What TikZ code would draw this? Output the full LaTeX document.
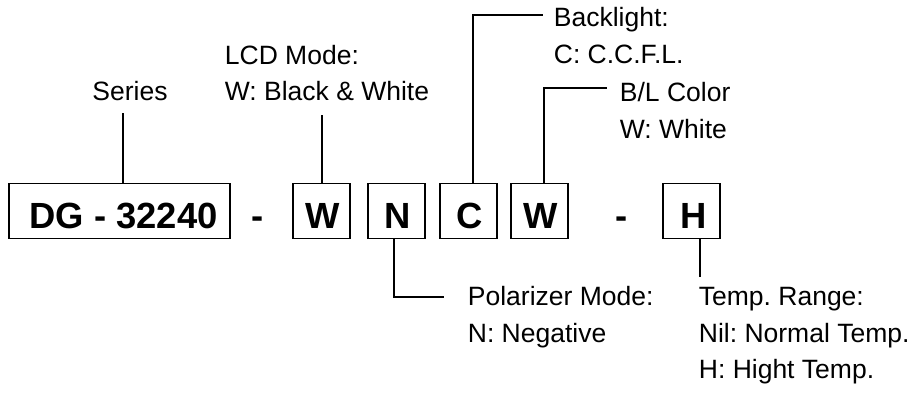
\documentclass[tikz,border=0pt]{standalone}
\usepackage{fontspec}
\setmainfont{Liberation Sans}
\frenchspacing
\begin{document}
\begin{tikzpicture}[x=1pt,y=-1pt,
  line width=1.8pt,
  codebox/.style={draw, inner sep=0pt, minimum height=55pt, text height=34pt, text depth=0pt,
    font=\fontsize{36.4}{40}\selectfont\bfseries},
  dashtext/.style={inner sep=0pt, anchor=base, font=\fontsize{36.4}{40}\selectfont\bfseries},
  lbl/.style={inner sep=0pt, anchor=base west, font=\fontsize{26.5}{37}\selectfont}]
\useasboundingbox (0,0) rectangle (912,394);
% code boxes
\node[codebox, minimum width=221pt] (dg) at (119.5,211) {\hspace*{8pt}DG - 32240};
\node[dashtext] (d1) at (258,228) {-};
\node[codebox, minimum width=57pt] (w1) at (321.5,211) {\hspace*{3pt}W};
\node[codebox, minimum width=57pt] (n) at (396.5,211) {\hspace*{3pt}N};
\node[codebox, minimum width=57pt] (c) at (468.5,211) {\hspace*{3pt}C};
\node[codebox, minimum width=57pt] (w2) at (539.5,211) {\hspace*{3pt}W};
\node[dashtext] (d2) at (622,228) {-};
\node[codebox, minimum width=57pt] (h) at (691.5,211) {\hspace*{4pt}H};
% labels
\node[lbl, anchor=base] (series) at (130,100) {Series};
\node[lbl] (lcd1) at (224,64) {LCD Mode:};
\node[lbl] (lcd2) at (224,100) {W: Black \& White};
\node[lbl] (bl1) at (553,26) {Backlight:};
\node[lbl] (bl2) at (553,63) {C: C.C.F.L.};
\node[lbl] (blc1) at (619,101) {B/L Color};
\node[lbl] (blc2) at (619,138) {W: White};
\node[lbl] (pol1) at (467,305) {Polarizer Mode:};
\node[lbl] (pol2) at (467,342) {N: Negative};
\node[lbl] (tr1) at (698,305) {Temp. Range:};
\node[lbl] (tr2) at (698,342) {Nil: Normal Temp.};
\node[lbl] (tr3) at (698,378) {H: Hight Temp.};
% connector end points
\coordinate (sE) at (123,113);
\coordinate (lE) at (322,115);
\coordinate (bC) at (473,15);
\coordinate (bE) at (543,15);
\coordinate (cC) at (544,88);
\coordinate (cE) at (607,88);
\coordinate (pC) at (394,297);
\coordinate (pE) at (444,297);
\coordinate (hE) at (700,277);
% connectors
\draw (dg.north -| sE) -- (sE);
\draw (w1.north -| lE) -- (lE);
\draw (c.north -| bC) -- (bC) -- (bE);
\draw (w2.north -| cC) -- (cC) -- (cE);
\draw (n.south -| pC) -- (pC) -- (pE);
\draw (h.south -| hE) -- (hE);
\end{tikzpicture}
\end{document}
